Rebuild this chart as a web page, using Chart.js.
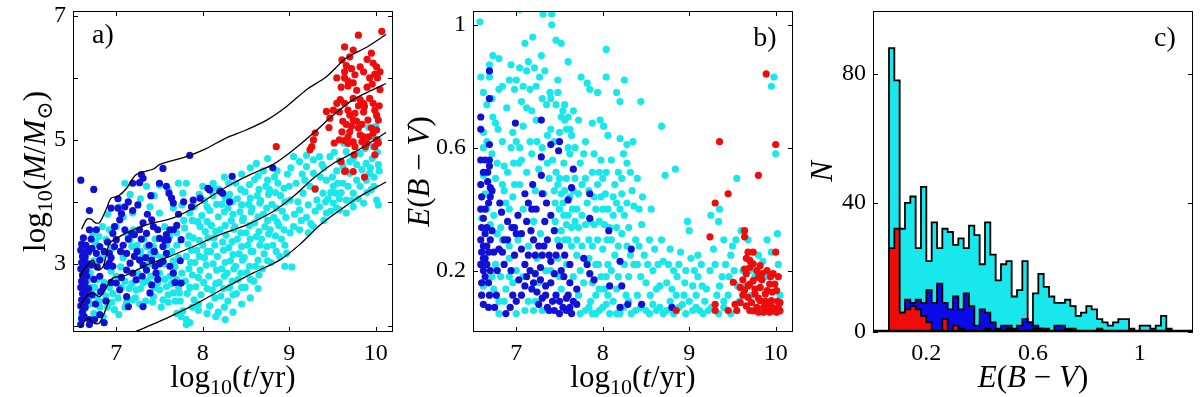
<!DOCTYPE html>
<html><head><meta charset="utf-8">
<script src="https://cdn.jsdelivr.net/npm/chart.js@4.4.0/dist/chart.umd.min.js"></script>
<style>
body{margin:0;background:#fff;width:1200px;height:397px;overflow:hidden;position:relative}
.p{position:absolute;top:0;width:400px;height:397px}
</style></head><body>
<div class="p" style="left:0"><canvas id="ca" width="400" height="397"></canvas></div>
<div class="p" style="left:400px"><canvas id="cb" width="400" height="397"></canvas></div>
<div class="p" style="left:800px"><canvas id="cc" width="400" height="397"></canvas></div>
<script>
// ---------------- DATA ----------------
const ageTicks = [7, 8, 9, 10];
const massTicks = [2, 3, 4, 5, 6, 7];
const massTickLabels = ['', '3', '', '5', '', '7'];
const ebvTicks = [0.2, 0.6, 1];
const countTicks = [0, 40, 80];

// Panel a: log10(t/yr) vs log10(M/Msun)
const aCyan = [[6.60,2.20],[6.60,2.10],[6.64,2.28],[6.62,2.42],[6.66,2.55],[6.70,2.35],[6.74,2.20],[6.77,2.48],[6.75,2.62],[6.80,2.40],[6.81,2.30],[6.84,2.55],[6.88,2.48],[6.92,2.62],[6.95,2.38],[6.98,2.26],[7.02,2.45],[6.66,2.72],[6.70,2.85],[6.73,3.49],[6.80,3.44],[6.88,3.39],[6.67,3.17],[6.92,3.55],[6.95,3.25],[7.05,2.95],[7.08,3.76],[7.04,3.92],[7.10,4.30],[7.12,3.49],[7.16,3.39],[7.20,3.55],[7.24,3.30],[7.19,3.82],[7.28,3.20],[7.35,3.28],[7.30,3.10],[7.43,3.28],[7.46,3.15],[7.38,3.00],[7.31,2.69],[7.23,2.58],[7.19,2.42],[7.27,2.35],[7.43,2.47],[7.50,2.58],[7.54,2.42],[7.58,2.63],[7.66,2.53],[7.62,2.80],[7.73,2.53],[7.70,2.75],[7.68,2.95],[7.72,3.10],[7.64,3.20],[7.55,3.00],[7.50,2.85],[7.35,4.25],[7.50,4.27],[7.72,4.30],[7.77,4.14],[7.66,3.90],[7.50,3.82],[7.39,3.92],[7.56,3.60],[7.70,3.50],[7.78,3.70],[7.10,2.72],[7.15,2.60],[7.40,2.80],[7.45,2.62],[7.25,2.85],[7.70,2.20],[7.75,2.15],[7.81,2.10],[7.81,2.02],[7.85,2.05],[7.77,2.24],[7.88,2.30],[7.60,2.38],[7.03,2.18],[7.10,2.30],[6.85,2.15],
[6.62,2.35],[6.68,2.45],[6.72,2.62],[6.78,2.75],[6.86,2.70],[6.90,2.30],[6.96,2.52],[7.00,2.80],[7.06,2.62],[7.12,2.38],[7.18,2.68],[7.22,2.45],[7.28,2.60],[7.34,2.40],[7.36,2.72],[7.42,2.38],[7.48,2.70],[7.52,2.30],[7.56,2.75],[7.60,2.50],[7.64,2.68],[7.68,2.40],[7.72,2.62],[7.76,2.85],[7.74,2.40],[7.66,3.05],[7.58,3.30],[7.70,3.30],[7.62,3.45],[7.45,3.40],[7.52,3.10],[7.40,3.18],[7.76,3.95],[7.60,4.20],[7.44,4.10],[7.28,4.05],[7.16,4.12],[7.00,3.60],[6.90,3.80],[6.84,3.60],[6.76,3.35],[6.74,3.05],[6.84,3.10],[6.94,2.88],[7.08,3.10],[7.18,3.28],[7.32,3.40],
[7.82,2.52],[7.80,2.72],[7.84,2.92],[7.81,3.12],[7.83,3.32],[7.79,3.58],[7.85,3.82],[7.90,2.42],[7.92,2.63],[7.88,2.82],[7.91,3.02],[7.93,3.22],[7.89,3.42],[7.94,3.68],[7.90,3.92],[7.98,2.50],[8.01,2.70],[7.97,2.90],[8.02,3.10],[8.00,3.30],[8.03,3.52],[7.99,3.78],[8.02,4.02],[8.00,4.25],[8.08,2.32],[8.11,2.58],[8.07,2.80],[8.12,3.00],[8.09,3.20],[8.13,3.42],[8.10,3.62],[8.08,3.86],[8.12,4.10],[8.18,2.22],[8.21,2.48],[8.19,2.70],[8.22,2.92],[8.17,3.12],[8.23,3.35],[8.20,3.55],[8.18,3.76],[8.22,3.96],[8.19,4.20],[8.29,2.40],[8.31,2.62],[8.28,2.85],[8.32,3.05],[8.30,3.26],[8.27,3.46],[8.33,3.70],[8.29,3.90],[8.31,4.12],[8.39,2.52],[8.41,2.75],[8.38,2.96],[8.42,3.16],[8.40,3.40],[8.37,3.60],[8.43,3.84],[8.40,4.05],[8.38,4.30],[8.49,2.62],[8.51,2.86],[8.48,3.10],[8.52,3.30],[8.50,3.50],[8.47,3.74],[8.53,3.96],[8.49,4.16],[8.59,2.72],[8.61,2.96],[8.58,3.20],[8.62,3.44],[8.60,3.66],[8.57,3.90],[8.63,4.10],[8.60,4.36],[8.69,2.92],[8.71,3.16],[8.68,3.40],[8.72,3.60],[8.70,3.80],[8.67,4.02],[8.73,4.25],[8.70,4.50],[8.79,3.02],[8.81,3.30],[8.78,3.55],[8.82,3.75],[8.80,3.96],[8.77,4.20],[8.83,4.40],[8.89,3.12],[8.91,3.40],[8.88,3.62],[8.92,3.85],[8.90,4.10],[8.87,4.30],[8.95,2.96],[8.97,3.17],[9.01,3.50],[9.03,2.95],[8.64,2.60],[8.55,2.45],[8.45,2.35],[8.35,2.22],[8.26,2.10],[8.15,2.15],[8.05,2.20],[7.95,2.25],[8.30,4.30],[8.45,4.45],[8.12,4.30],[8.25,4.40],[8.55,4.55],[8.75,4.70],[8.62,4.62],[7.81,4.30],
[7.85,2.62],[7.86,3.02],[7.87,3.22],[7.84,3.45],[7.88,3.70],[7.95,2.35],[7.95,2.78],[7.96,3.12],[7.96,3.38],[7.97,3.60],[7.96,4.12],[8.05,2.60],[8.04,2.98],[8.05,3.20],[8.06,3.42],[8.05,3.68],[8.05,3.92],[8.14,2.45],[8.15,2.68],[8.16,2.90],[8.14,3.30],[8.15,3.52],[8.16,3.96],[8.14,4.22],[8.25,2.30],[8.24,2.60],[8.25,2.80],[8.26,3.02],[8.24,3.22],[8.26,3.62],[8.25,3.84],[8.26,4.06],[8.35,2.50],[8.34,2.72],[8.36,2.92],[8.35,3.15],[8.34,3.36],[8.36,3.56],[8.35,3.80],[8.34,4.00],[8.45,2.62],[8.44,2.85],[8.46,3.06],[8.45,3.28],[8.44,3.50],[8.46,3.70],[8.45,3.95],[8.44,4.20],[8.55,2.75],[8.54,2.96],[8.56,3.20],[8.55,3.40],[8.54,3.62],[8.56,3.84],[8.55,4.06],[8.54,4.28],[8.65,2.82],[8.64,3.06],[8.66,3.30],[8.65,3.52],[8.64,3.76],[8.66,3.98],[8.65,4.20],[8.64,4.42],[8.75,3.05],[8.74,3.28],[8.76,3.48],[8.75,3.70],[8.74,3.90],[8.76,4.12],[8.75,4.35],[8.85,3.20],[8.84,3.45],[8.86,3.68],[8.85,3.90],[8.84,4.15],[8.86,4.50],[8.95,3.30],[8.94,3.55],[8.96,3.75],[8.95,4.00],[8.94,4.22],[8.98,4.45],
[9.05,4.73],[9.20,4.57],[9.28,4.68],[9.35,4.73],[9.47,4.73],[9.52,4.80],[9.58,4.66],[9.66,4.81],[9.74,4.70],[9.82,4.78],[9.88,4.86],[9.97,4.89],[10.03,5.00],[10.01,5.38],[9.89,4.62],[9.70,4.46],[9.62,4.30],[9.51,4.25],[9.39,4.14],[9.32,4.03],[9.24,4.25],[9.16,4.14],[9.12,3.87],[9.35,3.92],[9.43,3.82],[9.51,3.98],[9.58,3.87],[9.66,4.03],[9.74,4.14],[9.82,4.25],[9.89,4.35],[9.95,4.20],[10.01,4.03],[10.03,3.95],[9.93,4.46],[9.84,4.52],[9.74,3.92],[9.54,4.14],[9.66,3.82],[9.43,4.35],[9.28,4.46],[9.01,4.03],[9.05,3.60],[9.12,3.55],[9.08,4.30],[9.15,4.45],[9.20,3.75],[9.25,3.65],[9.40,4.55],[9.55,4.50],[9.78,4.60],[9.96,4.70],[10.03,4.60],[9.98,4.40],[9.63,4.95],[9.86,5.05],[9.92,5.20],[9.30,3.85],[9.45,4.05],[9.60,4.15],
[9.10,4.00],[9.18,4.35],[9.22,3.95],[9.30,4.20],[9.36,4.40],[9.38,4.60],[9.42,4.00],[9.48,4.15],[9.50,4.40],[9.56,4.30],[9.58,4.05],[9.62,4.58],[9.68,4.25],[9.70,4.65],[9.72,4.02],[9.78,4.35],[9.80,4.05],[9.86,3.98],[9.90,4.15],[9.94,4.55],[9.98,4.25],[10.02,4.80],[10.04,4.50],[9.96,5.05],[10.00,5.22],[9.55,3.90],[9.48,3.85],[9.20,4.75],[9.12,4.65],[9.02,4.55],[9.00,4.25],[9.06,3.80],[9.14,3.70],[9.28,3.60],[9.22,3.50],[9.40,3.70]];

const aBlue = [[6.59,4.35],[6.74,4.20],[6.69,3.86],[6.69,3.55],[6.77,3.55],[6.59,2.02],[6.60,2.12],[6.61,2.22],[6.59,2.32],[6.60,2.42],[6.61,2.52],[6.59,2.62],[6.60,2.72],[6.61,2.82],[6.59,2.92],[6.60,3.02],[6.61,3.12],[6.59,3.22],[6.60,3.32],[6.62,3.42],[6.64,2.30],[6.65,2.50],[6.64,2.70],[6.65,2.90],[6.64,3.10],[6.65,3.30],[6.69,2.10],[6.69,2.02],[6.68,2.60],[6.68,3.00],[6.71,2.98],[6.68,3.20],
[7.02,3.90],[7.10,3.92],[7.06,3.81],[7.19,3.86],[7.19,4.30],[7.29,4.44],[7.31,4.38],[7.27,4.31],[7.50,4.30],[7.54,4.54],[7.85,4.75],[7.61,4.14],[7.64,4.06],[7.66,3.98],[7.89,4.03],[7.97,4.06],[7.87,3.92],[8.06,4.22],[8.08,4.19],[8.20,4.17],[8.23,4.14],[8.31,4.00],[8.34,4.41],[8.81,4.55],[7.41,3.71],[7.43,3.60],[7.31,3.66],[7.35,3.49],[7.48,3.55],[7.50,3.41],[7.54,3.28],[7.58,3.47],[7.60,3.39],[7.66,3.55],[7.75,3.39],[7.18,3.49],[7.21,3.47],[7.27,3.55],[7.04,3.71],[7.10,3.55],[6.96,3.49],[7.00,3.39],[6.98,3.28],[6.92,3.17],[6.92,3.01],[6.96,2.96],[7.12,3.17],[7.16,3.01],[7.12,2.90],[7.21,3.12],[7.27,3.06],[7.31,2.98],[7.35,2.90],[7.19,2.85],[7.23,2.74],[7.41,3.06],[7.45,2.96],[7.46,2.85],[7.54,3.04],[7.58,3.17],[7.62,2.96],[7.66,2.85],[7.75,2.69],[7.41,2.66],[7.39,2.53],[7.12,2.47],[7.14,2.31],[7.00,2.69],[7.04,2.58],[6.81,2.80],[6.85,2.63],[6.89,2.96],[6.77,3.17],[6.81,3.06],[6.81,3.28],[6.71,3.40],[6.81,2.18],[7.31,2.31],[7.05,3.20],[6.88,2.40],[6.76,2.35],[6.98,3.60],[7.36,3.80],[7.25,3.95],
[6.63,2.15],[6.66,2.40],[6.63,2.60],[6.66,2.80],[6.63,3.00],[6.66,3.20],[6.72,2.50],[6.74,2.75],[6.72,3.25],[6.78,2.95],[6.86,3.20],[6.90,3.35],[6.94,3.10],[7.08,3.30],[7.14,3.40],[7.24,3.20],[7.29,3.40],[7.38,3.30],[7.34,3.10],[7.44,3.20],[7.50,3.00],[7.56,3.38],[7.62,3.55],[7.70,3.62],[7.74,3.05],[7.68,2.70],[7.48,2.75],[7.30,2.80],[7.06,2.78],[6.94,2.70],[6.82,2.55],[6.75,2.10],[6.86,2.05],[7.40,4.10],[7.14,4.00],[7.02,4.05],[6.94,3.90],[7.58,4.25],[7.78,4.00],[7.72,3.80]];

const aRed = [[9.80,6.69],[10.07,6.75],[9.64,6.50],[9.74,6.45],[9.95,6.40],[9.61,6.29],[9.70,6.34],[9.97,6.24],[10.01,6.18],[10.05,6.10],[9.82,6.18],[9.86,6.10],[9.76,6.05],[9.64,6.10],[9.64,6.00],[9.55,6.00],[9.68,5.95],[9.68,5.87],[9.74,5.92],[9.99,6.06],[10.02,6.00],[10.05,5.81],[9.59,5.65],[9.55,5.59],[9.64,5.59],[9.74,5.67],[9.82,5.65],[9.86,5.59],[9.87,5.54],[9.93,5.67],[9.97,5.59],[9.99,5.48],[10.01,5.40],[10.03,5.32],[9.68,5.48],[9.70,5.40],[9.74,5.32],[9.72,5.22],[9.70,5.13],[9.68,5.05],[9.76,5.43],[9.78,5.30],[9.80,5.19],[9.82,5.08],[9.84,4.97],[9.91,5.32],[9.95,5.19],[9.97,5.11],[10.01,5.16],[10.01,5.00],[9.99,4.89],[9.43,5.46],[9.51,5.48],[9.47,5.35],[9.61,5.13],[9.64,4.99],[9.68,4.94],[9.74,4.97],[9.76,4.89],[9.86,5.05],[9.88,4.89],[9.30,5.11],[9.28,5.00],[9.26,4.89],[9.24,4.84],[8.85,4.89],[10.03,4.95],[9.64,4.49],[9.74,4.49],[9.87,4.40],[9.30,4.21],[9.99,4.76],[9.60,4.65],[9.75,4.76],[9.65,4.50],
[9.66,6.20],[9.72,6.15],[9.90,6.30],[9.93,6.00],[9.60,5.85],[9.78,5.80],[9.90,5.85],[9.96,5.90],[9.58,5.45],[9.62,5.30],[9.66,5.25],[9.86,5.45],[9.92,5.05],[9.84,5.25],[9.58,5.00],[9.52,4.95],[9.90,4.95],[9.80,5.55],[10.04,5.55],[9.46,5.20]];

// percentile curves (panel a)
const curve1 = [[6.60,3.56],[6.66,3.72],[6.71,3.72],[6.76,3.66],[6.81,3.67],[6.89,3.90],[6.94,4.06],[7.02,4.09],[7.12,4.22],[7.23,4.44],[7.43,4.53],[7.50,4.60],[7.81,4.73],[8.04,4.86],[8.27,5.03],[8.50,5.16],[8.74,5.32],[8.97,5.54],[9.20,5.81],[9.43,6.02],[9.66,6.32],[9.90,6.50],[10.12,6.70]];
const curve2 = [[6.58,2.78],[6.62,2.90],[6.67,2.98],[6.73,3.06],[6.79,2.90],[6.85,2.96],[6.92,3.33],[6.98,3.39],[7.12,3.50],[7.35,3.63],[7.66,3.74],[7.89,3.90],[8.12,4.11],[8.35,4.30],[8.58,4.46],[8.81,4.60],[9.05,4.84],[9.28,5.11],[9.51,5.40],[9.74,5.65],[9.97,5.81],[10.12,5.91]];
const curve3 = [[6.58,2.30],[6.65,2.47],[6.73,2.53],[6.81,2.47],[6.89,2.63],[6.96,2.77],[7.12,2.82],[7.35,2.98],[7.62,3.12],[7.89,3.28],[8.20,3.47],[8.51,3.63],[8.81,3.84],[9.05,4.09],[9.28,4.38],[9.51,4.62],[9.74,4.79],[9.93,4.95],[10.12,5.12]];
const curve4 = [[7.23,1.91],[7.50,2.07],[7.70,2.20],[7.97,2.39],[8.28,2.63],[8.58,2.85],[8.89,3.06],[9.12,3.31],[9.36,3.63],[9.59,3.87],[9.82,4.09],[10.12,4.32]];
const curve5 = [[6.58,1.97],[6.67,2.12],[6.73,2.05],[6.80,2.04],[6.86,2.20],[6.92,2.42]];

// Panel b: log10(t/yr) vs E(B-V)
const bCyan = [[6.58,1.01],[7.04,1.05],[7.31,1.035],[7.41,1.035],[7.41,1.00],[7.46,0.95],[7.52,0.94],[7.60,0.88],[8.04,0.92],[7.10,0.94],[7.19,0.96],[7.29,0.90],[7.14,0.88],[6.73,0.90],[6.80,0.89],[6.69,0.87],[6.94,0.87],[7.04,0.86],[7.12,0.85],[7.21,0.86],[7.33,0.85],[6.59,0.83],[6.69,0.83],[7.00,0.82],[7.16,0.79],[7.23,0.80],[7.27,0.83],[6.80,0.79],[6.62,0.78],[7.06,0.75],[6.98,0.79],[7.39,0.78],[7.48,0.82],[7.75,0.83],[7.82,0.81],[7.85,0.79],[8.04,0.83],[8.25,0.82],[8.16,0.78],[7.94,0.78],[8.20,0.75],[8.44,0.75],[8.68,0.67],[9.98,0.83],[9.95,0.80],[6.73,0.70],[6.66,0.74],[6.89,0.73],[7.12,0.73],[7.23,0.69],[7.35,0.74],[7.40,0.76],[7.46,0.74],[7.56,0.74],[7.60,0.70],[7.52,0.70],[7.58,0.66],[7.66,0.72],[7.72,0.69],[7.64,0.64],[7.80,0.62],[7.88,0.68],[7.97,0.69],[8.01,0.67],[8.06,0.64],[8.20,0.63],[8.28,0.61],[8.35,0.62],[6.79,0.66],[6.96,0.65],[7.08,0.67],[7.00,0.62],[6.62,0.60],[6.86,0.54],[6.97,0.55],[7.03,0.55],[7.18,0.58],[7.26,0.53],[6.62,0.51],[6.64,0.45],[6.66,0.40],[6.60,0.37],[6.70,0.35],[6.78,0.32],[6.84,0.30],[6.92,0.28],
[7.42,0.56],[7.46,0.52],[7.48,0.48],[7.52,0.45],[7.45,0.42],[7.50,0.40],[7.55,0.38],[7.58,0.35],[7.45,0.36],[7.48,0.30],[7.52,0.33],[7.60,0.30],[7.65,0.40],[7.68,0.36],[7.70,0.30],[7.72,0.45],[7.68,0.50],[7.74,0.55],[7.55,0.55],[7.62,0.58],[7.58,0.50],
[7.78,0.58],[7.80,0.50],[7.82,0.42],[7.80,0.35],[7.84,0.30],[7.88,0.28],[7.90,0.35],[7.92,0.40],[7.94,0.48],[7.96,0.52],[7.98,0.56],[8.00,0.50],[8.03,0.45],[8.00,0.40],[8.02,0.35],[8.05,0.30],[8.00,0.27],[7.95,0.22],[7.98,0.18],[8.02,0.14],[7.92,0.12],[7.86,0.10],[7.80,0.07],[7.88,0.06],[7.96,0.07],[8.04,0.09],[8.08,0.06],[8.12,0.10],[8.10,0.20],[8.14,0.25],[8.10,0.30],[8.12,0.38],[8.16,0.42],[8.14,0.48],[8.18,0.52],[8.10,0.56],[8.22,0.45],[8.25,0.38],[8.22,0.32],[8.28,0.28],[8.25,0.22],[8.30,0.18],[8.27,0.12],[8.20,0.06],[8.33,0.06],[8.36,0.22],[8.38,0.30],[8.36,0.41],[8.40,0.50],[8.32,0.52],[8.45,0.35],[8.48,0.25],[8.44,0.18],[8.40,0.12],[8.50,0.07],[8.55,0.12],[8.58,0.20],[8.60,0.27],[8.54,0.30],[8.62,0.07],[8.66,0.15],[8.70,0.23],[8.72,0.51],[8.74,0.16],[8.78,0.10],[8.70,0.06],[8.82,0.20],[8.85,0.12],[8.88,0.22],[8.84,0.53],[8.92,0.09],[8.95,0.16],[8.98,0.36],[9.00,0.33],[9.02,0.24],[9.06,0.20],[9.08,0.12],[9.04,0.07],[9.12,0.07],[9.15,0.15],[9.18,0.10],[9.22,0.07],[9.25,0.38],[9.28,0.27],[9.30,0.22],[9.35,0.15],[9.34,0.36],[9.40,0.30],[9.42,0.22],[9.45,0.12],[9.50,0.28],[9.52,0.20],[9.55,0.50],[9.58,0.10],[9.62,0.20],[9.60,0.33],[9.68,0.30],[9.72,0.12],[9.80,0.25],[9.85,0.23],[9.90,0.30],[9.95,0.26],[10.00,0.58],[10.02,0.32],[10.03,0.22],[10.05,0.12],[9.88,0.18],[9.76,0.18],[9.35,0.40],[9.10,0.25],[8.78,0.27],[8.56,0.40],[8.46,0.44],[8.28,0.55],[7.90,0.58],[7.70,0.25],[7.74,0.20],[7.66,0.18],[7.72,0.12],[7.78,0.16],
[6.62,0.15],[6.72,0.18],[6.76,0.22],[6.82,0.18],[6.88,0.14],[6.92,0.18],[6.96,0.44],[7.04,0.48],[7.08,0.40],[6.86,0.46],[6.76,0.50],[6.74,0.38],[6.82,0.34],[6.90,0.52],[7.12,0.52],[7.22,0.46],[7.20,0.36],[7.28,0.32],[7.32,0.45],[7.38,0.50],[7.36,0.55],[7.24,0.24],[7.14,0.28],[7.02,0.30],[6.92,0.24],[7.30,0.07],[7.20,0.07],[7.10,0.07],[7.00,0.06],[7.40,0.20],[7.34,0.20],
[7.74,0.06],[7.84,0.08],[7.92,0.06],[8.00,0.08],[8.06,0.12],[8.16,0.06],[8.16,0.14],[8.24,0.08],[8.30,0.10],[8.38,0.07],[8.44,0.08],[8.54,0.06],[8.58,0.09],[8.66,0.08],[8.74,0.07],[8.82,0.06],[8.88,0.08],[8.96,0.06],[9.00,0.10],[9.08,0.08],[9.16,0.06],[9.26,0.08],[9.34,0.06],[9.40,0.08],[9.48,0.06],[9.40,0.10],
[8.42,0.28],[8.50,0.16],[8.52,0.22],[8.62,0.14],[8.64,0.22],[8.68,0.30],[8.76,0.22],[8.80,0.14],[8.86,0.18],[8.90,0.26],[8.94,0.12],[8.96,0.20],[9.04,0.15],[9.10,0.18],[9.14,0.22],[9.20,0.14],[9.24,0.20],[9.32,0.12],[9.38,0.18],[9.46,0.18],[9.48,0.25],[9.56,0.15],[9.54,0.30],[9.70,0.20],[9.66,0.15],
[7.44,0.46],[7.50,0.50],[7.54,0.42],[7.56,0.46],[7.62,0.44],[7.60,0.38],[7.64,0.34],[7.66,0.46],[7.70,0.40],[7.72,0.34],[7.76,0.38],[7.76,0.48],[7.84,0.46],[7.86,0.36],[7.88,0.52],[7.90,0.44],[7.94,0.30],[7.96,0.36],[7.98,0.44],[8.04,0.52],[8.06,0.40],[8.06,0.22],[8.08,0.34],[8.12,0.44],[8.16,0.34],[8.18,0.28],[8.18,0.18],[8.20,0.40],[8.22,0.50],[8.24,0.58],[8.28,0.42],[8.30,0.34],[8.32,0.25],[8.34,0.46],[8.42,0.40],[8.40,0.22],[7.92,0.22],[7.88,0.16],[7.84,0.24],[7.96,0.14],[8.04,0.18],[7.76,0.28],[7.64,0.28],[7.56,0.30],[7.58,0.22],[7.50,0.18],[7.48,0.24],[7.52,0.14],[7.60,0.60],[7.68,0.60],[7.50,0.65],[7.44,0.62],[7.40,0.66],[7.56,0.69],[7.62,0.66],[7.48,0.78],[7.54,0.72],
[6.62,0.65],[6.66,0.62],[6.72,0.58],[6.78,0.55],[6.84,0.48],[6.88,0.42],[6.92,0.40],[6.98,0.48],[7.06,0.56],[7.16,0.62],[7.24,0.62],[7.30,0.60],[7.36,0.64],[7.04,0.60],[6.94,0.60],[6.84,0.62],[6.76,0.68],[6.72,0.76],[6.84,0.80],[6.92,0.82],[7.08,0.80],[7.18,0.72],[7.30,0.76],[6.64,0.16],[6.74,0.14],[6.80,0.10],[6.86,0.10],[6.96,0.16],[7.00,0.20],[7.08,0.18],[7.14,0.10],[7.22,0.10],[7.26,0.16],[6.80,0.06]];

const bBlue = [[6.59,0.70],[6.59,0.66],[6.69,0.85],[6.69,0.76],[6.69,0.61],[6.59,0.56],[6.64,0.56],[6.69,0.56],[6.69,0.54],[6.67,0.52],[6.67,0.49],[6.70,0.47],[6.72,0.46],[6.70,0.44],[6.68,0.42],[6.59,0.48],[6.60,0.44],[6.59,0.40],[6.62,0.37],[6.60,0.34],[6.64,0.32],[6.59,0.30],[6.62,0.28],[6.60,0.26],[6.64,0.24],[6.59,0.22],[6.62,0.20],[6.66,0.22],[6.68,0.26],[6.70,0.30],[6.72,0.33],[6.60,0.12],[6.69,0.12],[6.77,0.12],[6.62,0.09],[6.68,0.08],[6.75,0.08],[6.88,0.06],[6.93,0.08],
[6.99,0.68],[7.29,0.69],[7.29,0.57],[7.29,0.51],[7.40,0.61],[7.50,0.62],[7.49,0.59],[7.66,0.53],[7.64,0.47],[7.60,0.43],[7.85,0.45],[7.85,0.37],[8.07,0.33],[8.20,0.23],[8.33,0.27],[8.08,0.15],[8.22,0.15],[8.29,0.09],[8.45,0.09],[8.80,0.08],[8.20,0.08],
[6.81,0.42],[6.83,0.39],[6.90,0.36],[6.95,0.34],[6.98,0.34],[7.02,0.38],[7.10,0.45],[7.19,0.48],[7.14,0.42],[7.23,0.40],[7.35,0.42],[7.33,0.36],[7.12,0.36],[7.17,0.33],[7.20,0.30],[7.26,0.28],[7.30,0.25],[7.06,0.27],[6.98,0.25],[6.86,0.22],[6.80,0.27],[7.10,0.22],[7.16,0.20],[7.22,0.19],[7.28,0.17],[7.34,0.15],[7.40,0.16],[7.44,0.19],[7.40,0.23],[7.36,0.30],[7.44,0.33],[7.50,0.28],[7.56,0.25],[7.62,0.22],[7.55,0.18],[7.62,0.16],[7.70,0.14],[7.78,0.24],[7.82,0.22],[7.85,0.19],[7.90,0.17],[7.46,0.12],[7.50,0.10],[7.54,0.08],[7.58,0.07],[7.62,0.08],[7.66,0.10],[7.70,0.09],[7.44,0.07],[7.36,0.08],[7.30,0.11],[7.24,0.13],[7.18,0.14],[7.10,0.15],[7.06,0.12],[7.00,0.10],[6.96,0.12],[7.38,0.07],[7.60,0.12],[7.03,0.17],[7.26,0.09],
[6.62,0.52],[6.64,0.40],[6.66,0.34],[6.62,0.24],[6.64,0.18],[6.66,0.28],[6.70,0.20],[6.60,0.16],[6.68,0.16],[6.74,0.26],[6.78,0.20],[6.84,0.26],[6.90,0.30],[6.94,0.20],[7.00,0.32],[7.06,0.32],[7.14,0.25],[7.22,0.25],[7.28,0.21],[7.32,0.28],[7.38,0.25],[7.46,0.25],[7.52,0.20],[7.58,0.11],[7.64,0.06],[7.50,0.06],[7.42,0.10],[7.34,0.12],[7.20,0.16],[7.12,0.18],[7.40,0.38],[7.30,0.45],[7.18,0.40],[6.86,0.30]];

const bRed = [[9.89,0.84],[9.35,0.62],[10.00,0.61],[9.80,0.51],[9.45,0.45],[9.30,0.42],[9.24,0.31],[9.64,0.33],[9.64,0.31],[9.68,0.26],[9.74,0.26],[10.00,0.26],[8.85,0.07],[9.30,0.09],[9.30,0.07],[9.45,0.07],[9.55,0.07],
[9.51,0.162],[9.59,0.145],[9.64,0.135],[9.70,0.156],[9.76,0.124],[9.82,0.102],[9.86,0.08],[9.90,0.069],[9.93,0.064],[9.97,0.069],[10.03,0.08],[10.05,0.096],[9.66,0.19],[9.70,0.21],[9.78,0.20],[9.80,0.178],[9.74,0.167],[9.82,0.145],[9.90,0.135],[9.93,0.156],[9.99,0.156],[10.01,0.135],[9.59,0.096],[9.66,0.085],[9.74,0.069],[9.80,0.064],[9.86,0.064],[10.05,0.069],[10.01,0.064],[9.68,0.113],[9.72,0.096],[9.78,0.08],[9.88,0.124],[9.95,0.102],[9.90,0.20],[9.82,0.216],[9.97,0.19],[9.70,0.233],[9.74,0.222],[9.64,0.205],[9.53,0.09],
[9.62,0.17],[9.68,0.15],[9.76,0.14],[9.84,0.17],[9.88,0.10],[9.96,0.13],[10.02,0.10],[9.92,0.09],[9.80,0.11],[9.70,0.07],[9.62,0.12],[9.84,0.19],[9.94,0.18],[10.03,0.18],[9.66,0.24],[9.96,0.08]];

// Panel c: histograms of E(B-V), bins of width 0.02 starting at 0.06
const binStart = 0.06;
const binWidth = 0.02;
const histCyan = [88,78,32,40,42,26,45,22,34,26,32,31,27,29,26,33,30,21,34,24,16,21,22,11,13,22,3,12,18,14,11,9,9,10,8,5,6,8,7,4,3,2,3,4,4,1,0,2,2,1,2,5,0];
const histBlue = [0,0,6,10,9,10,9,13,9,15,9,7,11,7,12,8,2,7,6,3,1,2,2,1,2,4,3,2,1,1,0,2,2,1,1,0,0,0,0,0,0,0,0,0,0,0,0,0,0,0,0,0,0];
const histRed  = [26,32,6,7,8,7,5,3,0,0,4,0,2,1,0,0,0,0,1,0,0,0,1,0,0,0,0,1,1,0,0,0,0,0,0,0,0,0,0,1,0,0,0,0,0,0,0,0,0,0,0,0,1];

// ---------------- STYLE ----------------
const CYAN = 'rgb(24,232,236)';
const BLUE = 'rgb(16,16,214)';
const RED = 'rgb(238,12,12)';
const SERIF = '"Liberation Serif", "DejaVu Serif", serif';

const toXY = arr => arr.map(p => ({x: p[0], y: p[1]}));
function stepData(counts) {
  const pts = [{x: binStart, y: 0}];
  counts.forEach((c, i) => pts.push({x: binStart + i * binWidth, y: c}));
  pts.push({x: binStart + counts.length * binWidth, y: 0});
  return pts;
}

function fontFor(style, size) {
  if (style === 'i') return 'italic ' + size + 'px ' + SERIF;
  if (style === 's') return Math.round(size * 0.7) + 'px ' + SERIF;
  return size + 'px ' + SERIF;
}
function drawRich(ctx, parts, cx, cy, rot, size) {
  ctx.save();
  ctx.translate(cx, cy);
  ctx.rotate(rot);
  let w = 0;
  const ws = parts.map(p => { ctx.font = fontFor(p[1], size); const m = ctx.measureText(p[0]).width; w += m; return m; });
  let x = -w / 2;
  ctx.fillStyle = '#000';
  ctx.textBaseline = 'alphabetic';
  parts.forEach((p, i) => {
    ctx.font = fontFor(p[1], size);
    const dy = p[1] === 's' ? size * 0.33 + size * 0.22 : size * 0.33;
    ctx.fillText(p[0], x, dy);
    x += ws[i];
  });
  ctx.restore();
}

const framePlugin = {
  id: 'frame',
  afterDatasetsDraw(chart, args, opts) {
    const ctx = chart.ctx, a = chart.chartArea;
    const xs = chart.scales.x, ys = chart.scales.y;
    ctx.save();
    ctx.strokeStyle = '#000';
    ctx.lineWidth = 1;
    ctx.strokeRect(a.left + 0.5, a.top + 0.5, a.right - a.left - 1, a.bottom - a.top - 1);
    const L = 5;
    (opts.xTicks || []).forEach(v => {
      const px = Math.round(xs.getPixelForValue(v)) + 0.5;
      ctx.beginPath();
      ctx.moveTo(px, a.bottom); ctx.lineTo(px, a.bottom - L);
      ctx.moveTo(px, a.top); ctx.lineTo(px, a.top + L);
      ctx.stroke();
    });
    (opts.yTicks || []).forEach(v => {
      const py = Math.round(ys.getPixelForValue(v)) + 0.5;
      ctx.beginPath();
      ctx.moveTo(a.left, py); ctx.lineTo(a.left + L, py);
      ctx.moveTo(a.right, py); ctx.lineTo(a.right - L, py);
      ctx.stroke();
    });
    if (opts.thickBottom) {
      ctx.lineWidth = 2.5;
      ctx.beginPath(); ctx.moveTo(a.left, a.bottom - 1); ctx.lineTo(a.right, a.bottom - 1); ctx.stroke();
    }
    ctx.restore();
  },
  afterDraw(chart, args, opts) {
    const ctx = chart.ctx, a = chart.chartArea;
    if (opts.xTitle) drawRich(ctx, opts.xTitle, (a.left + a.right) / 2, 377, 0, opts.titleSize);
    if (opts.yTitle) drawRich(ctx, opts.yTitle, opts.yTitleX, (a.top + a.bottom) / 2, -Math.PI / 2, opts.titleSize);
    if (opts.label) {
      ctx.save();
      ctx.font = '28px ' + SERIF;
      ctx.fillStyle = '#000';
      ctx.textAlign = 'center';
      ctx.textBaseline = 'middle';
      ctx.fillText(opts.label, opts.labelX, opts.labelY);
      ctx.restore();
    }
  }
};

function fixBox(w, h) {
  return function (s) {
    if (w !== null) s.width = w;
    if (h !== null) s.height = h;
    s.paddingTop = 0; s.paddingBottom = 0; s.paddingLeft = 0; s.paddingRight = 0;
  };
}

function baseOptions(xmin, xmax, xTickVals, xLabelFn, ymin, ymax, yTickVals, yLabelFn, frameOpts) {
  return {
    responsive: false,
    devicePixelRatio: 1,
    animation: false,
    events: [],
    layout: {padding: {left: 0, right: 7, top: 11, bottom: 0}},
    plugins: {legend: {display: false}, tooltip: {enabled: false}, frame: frameOpts},
    scales: {
      x: {
        type: 'linear', min: xmin, max: xmax,
        grid: {display: false, drawTicks: false},
        border: {display: false},
        afterBuildTicks: s => { s.ticks = xTickVals.map(v => ({value: v})); },
        afterFit: fixBox(null, 65),
        ticks: {autoSkip: false, maxRotation: 0, padding: 7, color: '#000',
          font: {family: SERIF, size: 24}, callback: xLabelFn}
      },
      y: {
        type: 'linear', min: ymin, max: ymax,
        grid: {display: false, drawTicks: false},
        border: {display: false},
        afterBuildTicks: s => { s.ticks = yTickVals.map(v => ({value: v})); },
        afterFit: fixBox(73, null),
        ticks: {autoSkip: false, padding: 7, color: '#000',
          font: {family: SERIF, size: 24}, callback: yLabelFn}
      }
    }
  };
}

const ageTitle = [['log', 'r'], ['10', 's'], ['(', 'r'], ['t', 'i'], ['/yr)', 'r']];
const ebvTitle = [['E', 'i'], ['(', 'r'], ['B', 'i'], [' \u2212 ', 'r'], ['V', 'i'], [')', 'r']];

function scatterSet(arr, color) {
  return {type: 'scatter', data: toXY(arr), backgroundColor: color, borderWidth: 0, pointRadius: 3.6, pointHoverRadius: 3.6};
}
function curveSet(arr) {
  return {type: 'line', data: toXY(arr), borderColor: '#000', borderWidth: 1.3, pointRadius: 0, fill: false, tension: 0.3};
}

// Panel a
new Chart(document.getElementById('ca'), {
  type: 'scatter',
  data: {datasets: [curveSet(curve1), curveSet(curve2), curveSet(curve3), curveSet(curve4), curveSet(curve5),
    scatterSet(aRed, RED), scatterSet(aBlue, BLUE), scatterSet(aCyan, CYAN)]},
  options: baseOptions(6.5, 10.2, ageTicks, v => String(v), 1.9, 7.08, massTicks,
    (v, i) => massTickLabels[i],
    {xTicks: ageTicks, yTicks: massTicks, xTitle: ageTitle, titleSize: 31,
     yTitle: [['log', 'r'], ['10', 's'], ['(', 'r'], ['M', 'i'], ['/', 'r'], ['M', 'i'], ['\u2299', 's'], [')', 'r']],
     yTitleX: 35, label: 'a)', labelX: 103, labelY: 36}),
  plugins: [framePlugin]
});

// Panel b
new Chart(document.getElementById('cb'), {
  type: 'scatter',
  data: {datasets: [scatterSet(bRed, RED), scatterSet(bBlue, BLUE), scatterSet(bCyan, CYAN)]},
  options: baseOptions(6.5, 10.2, ageTicks, v => String(v), 0, 1.045, ebvTicks, v => String(v),
    {xTicks: ageTicks, yTicks: ebvTicks, xTitle: ageTitle, titleSize: 31,
     yTitle: ebvTitle, yTitleX: 19, label: 'b)', labelX: 365, labelY: 39}),
  plugins: [framePlugin]
});

// Panel c
function histSet(counts, color) {
  return {type: 'line', data: stepData(counts), stepped: 'before', borderColor: '#000', borderWidth: 1.8,
    backgroundColor: color, fill: 'origin', pointRadius: 0, tension: 0};
}
new Chart(document.getElementById('cc'), {
  type: 'line',
  data: {datasets: [histSet(histRed, RED), histSet(histBlue, 'rgb(10,10,235)'), histSet(histCyan, CYAN)]},
  options: baseOptions(0, 1.2, ebvTicks, v => String(v), 0, 99.5, countTicks, v => String(v),
    {xTicks: [], yTicks: countTicks, xTitle: ebvTitle, titleSize: 31,
     yTitle: [['N', 'i']], yTitleX: 22, label: 'c)', labelX: 365, labelY: 39, thickBottom: true}),
  plugins: [framePlugin]
});
</script>
</body></html>
